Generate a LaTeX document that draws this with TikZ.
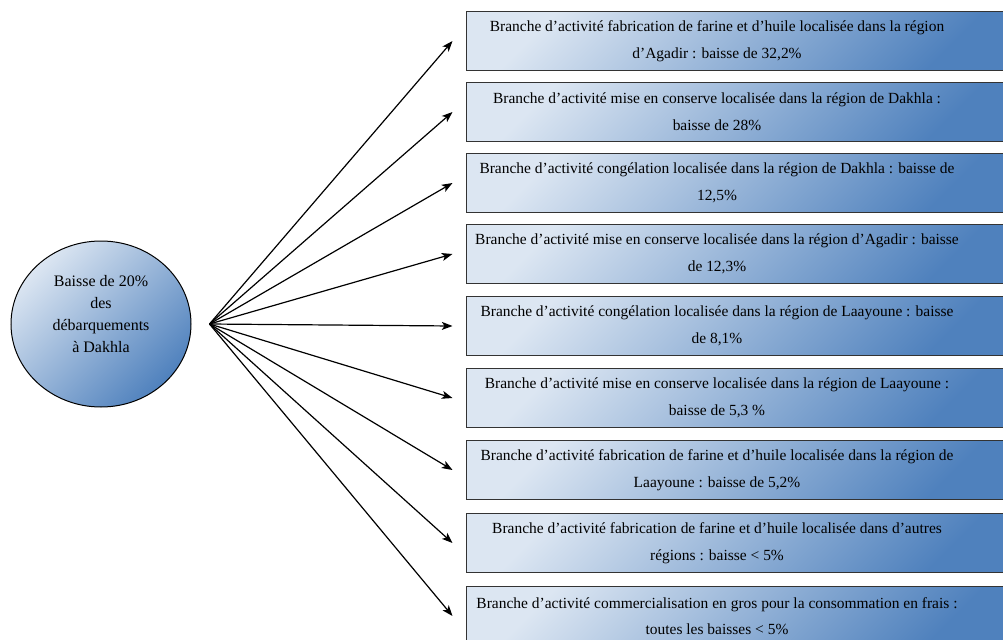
\documentclass[tikz,border=0pt]{standalone}
\usepackage{fontspec}
\setmainfont{Liberation Serif}
\usetikzlibrary{arrows.meta,shapes.geometric}
\definecolor{paleblue}{HTML}{DCE6F2}
\definecolor{deepblue}{HTML}{4F81BD}
\tikzset{
  branch/.style={draw=black!80, line width=0.75pt, inner sep=0pt,
    minimum width=412.5pt, minimum height=44.25pt,
    top color=paleblue, bottom color=deepblue, shading angle=45},
  branchtext/.style={align=center, inner sep=0pt,
    font=\fontsize{11.6}{20}\selectfont},
  landing/.style={ellipse, draw=black, line width=0.75pt, inner sep=0pt,
    minimum width=135pt, minimum height=124.5pt,
    top color=paleblue, bottom color=deepblue, shading angle=45},
  feed/.style={line width=0.9pt, -{Stealth[length=8pt,width=6pt,inset=2pt]}}
}
\begin{document}
\begin{tikzpicture}[x=0.75pt,y=-0.75pt]
        \path[use as bounding box, clip] (0,0) rectangle (1003,639);
        \node[landing] (c) at (101,324) {};
        \node[align=center, inner sep=0pt, font=\fontsize{12}{16.3}\selectfont] (ctext)
            at ([yshift=7.5pt]c.center) {Baisse de 20\%\\des\\débarquements\\à Dakhla};
        \coordinate (hub) at ([xshift=13.5pt]c.east);
        \foreach \i/\yc/\txt in {
            1/41/{Branche d’activité fabrication de farine et d’huile localisée dans la région\\d’Agadir : baisse de 32,2\%},
            2/112/{Branche d’activité mise en conserve localisée dans la région de Dakhla :\\baisse de 28\%},
            3/183/{Branche d’activité congélation localisée dans la région de Dakhla : baisse de\\12,5\%},
            4/254/{Branche d’activité mise en conserve localisée dans la région d’Agadir : baisse\\de 12,3\%},
            5/326/{Branche d’activité congélation localisée dans la région de Laayoune : baisse\\de 8,1\%},
            6/398/{Branche d’activité mise en conserve localisée dans la région de Laayoune :\\baisse de 5,3 \%},
            7/470/{Branche d’activité fabrication de farine et d’huile localisée dans la région de\\Laayoune : baisse de 5,2\%},
            8/543/{Branche d’activité fabrication de farine et d’huile localisée dans d’autres\\régions : baisse < 5\%},
            9/616/{Branche d’activité commercialisation en gros pour la consommation en frais :\\toutes les baisses < 5\%}}{
            \node[branch] (b\i) at (741,\yc) {};
            \node[branchtext] (t\i) at ([xshift=-18pt]b\i.center) {\txt};
            \draw[feed] (hub) -- ([xshift=-9.75pt]b\i.west);
        }
    \end{tikzpicture}
\end{document}
